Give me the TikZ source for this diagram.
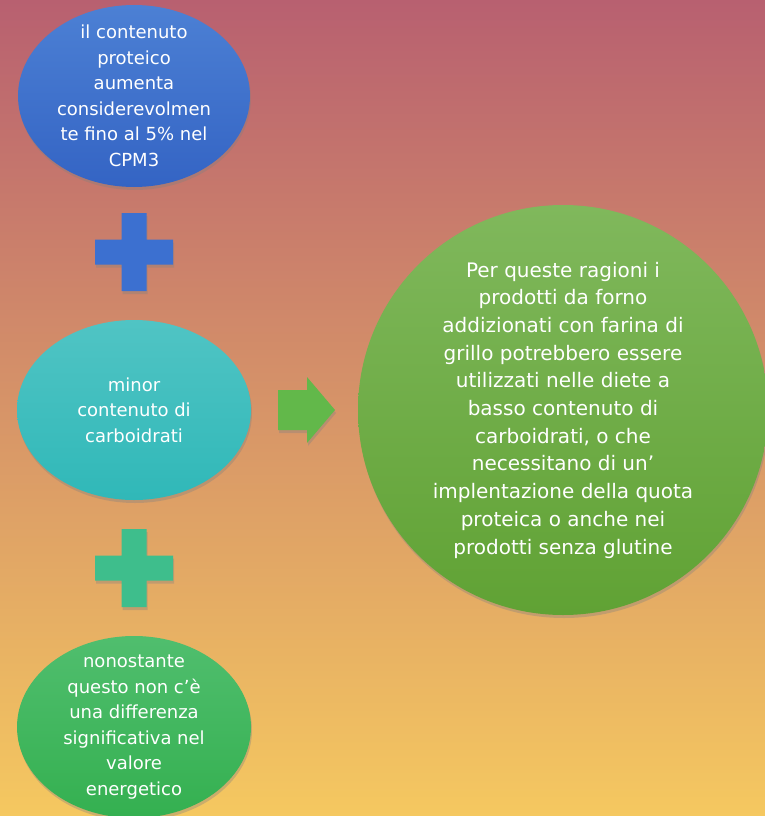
\documentclass[tikz,border=0pt]{standalone}
\usepackage{fontspec}
\setmainfont{DejaVu Sans}
\usetikzlibrary{shadows}

\definecolor{bgtop}{RGB}{184,96,112}
\definecolor{bgmid}{RGB}{214,142,104}
\definecolor{bgbot}{RGB}{245,200,96}
\definecolor{bluetop}{RGB}{76,128,212}
\definecolor{bluebot}{RGB}{52,100,196}
\definecolor{tealtop}{RGB}{80,196,196}
\definecolor{tealbot}{RGB}{48,184,184}
\definecolor{greentop}{RGB}{80,190,110}
\definecolor{greenbot}{RGB}{52,176,80}
\definecolor{bigtop}{RGB}{128,184,92}
\definecolor{bigbot}{RGB}{96,162,52}
\definecolor{plusblue}{RGB}{60,112,208}
\definecolor{plusteal}{RGB}{62,190,140}
\definecolor{arrowgreen}{RGB}{98,184,74}

\tikzset{
  blob/.style={drop shadow={opacity=0.35, shadow xshift=1pt, shadow yshift=-3pt}},
  testo/.style={align=center, text=white, inner sep=0pt,
    font=\fontsize{18}{25.5}\selectfont},
  testogrande/.style={testo, font=\fontsize{20}{27.7}\selectfont}
}

\begin{document}
\begin{tikzpicture}[x=1pt,y=-1pt]
% background
\shade[top color=bgtop, middle color=bgmid, bottom color=bgbot] (0,0) rectangle (765,816);
\useasboundingbox (0,0) rectangle (765,816);

\coordinate (c1) at (134,96);
\coordinate (c2) at (134,410);
\coordinate (c3) at (134,727);
\coordinate (c4) at (563,410);

% bubbles
\shade[blob, top color=bluetop, bottom color=bluebot] (c1) ellipse [x radius=116, y radius=91];
\shade[blob, top color=tealtop, bottom color=tealbot] (c2) ellipse [x radius=117, y radius=90];
\shade[blob, top color=greentop, bottom color=greenbot] (c3) ellipse [x radius=117, y radius=91];
\shade[blob, top color=bigtop, bottom color=bigbot] (c4) circle [radius=205];

% plus signs
\coordinate (piu1) at (134,252);
\coordinate (piu2) at (134,568);
\fill[blob, plusblue] (piu1) ++(-12.5,-39) -- ++(25,0) -- ++(0,26.5) -- ++(26.5,0) -- ++(0,25)
  -- ++(-26.5,0) -- ++(0,26.5) -- ++(-25,0) -- ++(0,-26.5) -- ++(-26.5,0) -- ++(0,-25)
  -- ++(26.5,0) -- cycle;
\fill[blob, plusteal] (piu2) ++(-12.5,-39) -- ++(25,0) -- ++(0,26.5) -- ++(26.5,0) -- ++(0,25)
  -- ++(-26.5,0) -- ++(0,26.5) -- ++(-25,0) -- ++(0,-26.5) -- ++(-26.5,0) -- ++(0,-25)
  -- ++(26.5,0) -- cycle;

% arrow
\coordinate (freccia) at (278,410);
\fill[blob, arrowgreen] (freccia) ++(0,-20) -- ++(29,0) -- ++(0,-13) -- ++(28,33)
  -- ++(-28,33) -- ++(0,-13) -- ++(-29,0) -- cycle;

% texts
\node[testo] (proteine) at (c1)
  {il contenuto\\proteico\\aumenta\\considerevolmen\\te fino al 5\% nel\\CPM3};
\node[testo] (carbo) at (c2)
  {minor\\contenuto di\\carboidrati};
\node[testo] (energia) at (c3)
  {nonostante\\questo non c’è\\una differenza\\significativa nel\\valore\\energetico};
\node[testogrande] (conclusione) at (c4)
  {Per queste ragioni i\\prodotti da forno\\addizionati con farina di\\grillo potrebbero essere\\utilizzati nelle diete a\\basso contenuto di\\carboidrati, o che\\necessitano di un’\\implentazione della quota\\proteica o anche nei\\prodotti senza glutine};
\end{tikzpicture}
\end{document}
